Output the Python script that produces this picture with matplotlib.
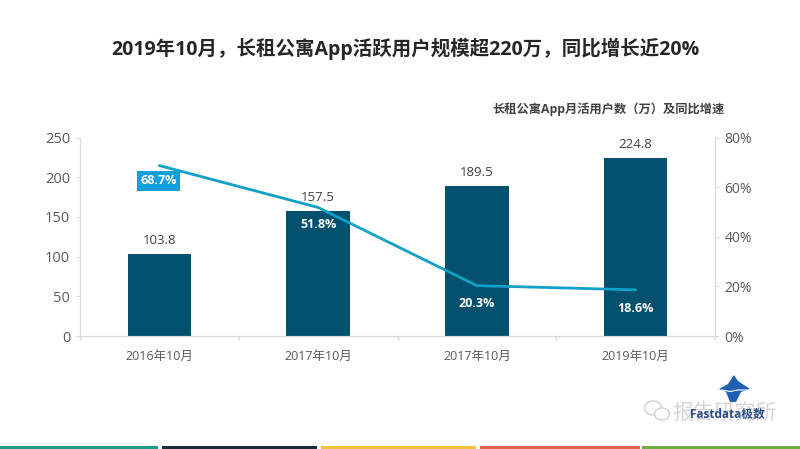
import matplotlib
matplotlib.use('Agg')
import matplotlib.pyplot as plt
from matplotlib.patches import Rectangle, Polygon, Ellipse

plt.rcParams['font.family'] = ['Open Sans', 'Noto Sans CJK SC', 'DejaVu Sans']

categories = ['2016年10月', '2017年10月', '2017年10月', '2019年10月']
users = [103.8, 157.5, 189.5, 224.8]
growth = [68.7, 51.8, 20.3, 18.6]
growth_labels = ['68.7%', '51.8%', '20.3%', '18.6%']
left_ticks = [0, 50, 100, 150, 200, 250]
right_ticks = [0, 20, 40, 60, 80]
band_colors = ['#1d9a8a', '#1d2b3a', '#efc23f', '#e8604c', '#6fae45']
title = '2019年10月，长租公寓App活跃用户规模超220万，同比增长近20%'
subtitle = '长租公寓App月活用户数（万）及同比增速'

W, H = 800, 449
fig = plt.figure(figsize=(W / 100, H / 100), dpi=100, facecolor='white')
L, R, T, B = 80, 715, 137.5, 336
ax = fig.add_axes([L / W, 1 - B / H, (R - L) / W, (B - T) / H])
x = list(range(len(users)))
ax.bar(x, users, width=0.4, color='#00506e', zorder=2)
ax.set_xlim(-0.5, 3.5)
ax.set_ylim(0, 250)
ax.set_xticks([-0.5, 0.5, 1.5, 2.5, 3.5], minor=False)
ax.set_xticklabels([])
ax.tick_params(axis='x', length=3, color='#d9d9d9', width=1)
ax.set_xticks(x, minor=True)
ax.set_xticklabels(categories, minor=True, fontsize=9, color='#595959')
ax.tick_params(axis='x', which='minor', length=0, pad=10)
ax.set_yticks(left_ticks)
ax.tick_params(axis='y', length=3, color='#d9d9d9', labelsize=10.5, labelcolor='#595959', pad=4)
ax.spines['top'].set_visible(False)
for s in ['left', 'right', 'bottom']:
    ax.spines[s].set_color('#d9d9d9')

ax2 = ax.twinx()
ax2.set_ylim(0, 80)
ax2.set_yticks(right_ticks)
ax2.set_yticklabels([f'{v}%' for v in right_ticks])
ax2.tick_params(axis='y', length=3, color='#d9d9d9', labelsize=10, labelcolor='#595959', pad=4)
ax2.spines['top'].set_visible(False)
for s in ['left', 'right', 'bottom']:
    ax2.spines[s].set_color('#d9d9d9')
ax2.plot(x, growth, color='#12a0c8', lw=2.0, zorder=3, solid_capstyle='round')

for i, v in enumerate(users):
    ax.annotate(f'{v}', (i, v), xytext=(0, 5), textcoords='offset points', ha='center', va='bottom',
                fontsize=9.5, color='#404040')

offsets = [-12, -12.5, -13, -13.5]
for i, (g, lab) in enumerate(zip(growth, growth_labels)):
    if i == 0:
        ax2.annotate(lab, (i, g), xytext=(-0.5, -11), textcoords='offset points', ha='center', va='center',
                     fontsize=9, fontweight='bold', color='white', zorder=5,
                     bbox=dict(boxstyle='square,pad=0.28', fc='#12a0dc', ec='none'))
    else:
        ax2.annotate(lab, (i, g), xytext=(0, offsets[i]), textcoords='offset points', ha='center', va='center',
                     fontsize=9, fontweight='bold', color='white', zorder=5)

fig.text(405 / W, 1 - 49 / H, title, ha='center', va='center', fontsize=14, fontweight='bold', color='#262626')
fig.text(725 / W, 1 - 109 / H, subtitle, ha='right', va='center', fontsize=8.8, fontweight='bold', color='#404040')

# bottom colour bands
edges = [0, 158, 162, 317, 321, 476, 480, 640, 642, 800]
over = fig.add_axes([0, 0, 1, 1], facecolor='none')
over.set_xlim(0, W)
over.set_ylim(H, 0)
over.axis('off')
for k, c in enumerate(band_colors):
    over.add_patch(Rectangle((edges[2 * k], 446), edges[2 * k + 1] - edges[2 * k], 3, fc=c, ec='none'))

# logo and watermark
over.add_patch(Polygon([(719, 389), (728, 384), (734, 375), (738, 381), (744, 385), (750, 389), (741, 392),
                        (736, 402), (730, 402), (726, 392)], fc='#1f5fb4', ec='none'))
over.plot([722, 730, 738, 748], [390, 391.5, 390, 390], color='white', lw=0.8)
over.add_patch(Ellipse((653, 408), 17, 14, fc='white', ec='#cfcfcf', lw=1))
over.add_patch(Ellipse((662, 414), 15, 12, fc='white', ec='#cfcfcf', lw=1))
over.text(725, 414, '报告研究所', ha='center', va='center', fontsize=15, color='#c8c8c8', alpha=0.75)
over.text(727, 414, 'Fastdata极数', ha='center', va='center', fontsize=8.5, color='#2b4f86', fontweight='bold')

fig.savefig('out.png', dpi=100)
